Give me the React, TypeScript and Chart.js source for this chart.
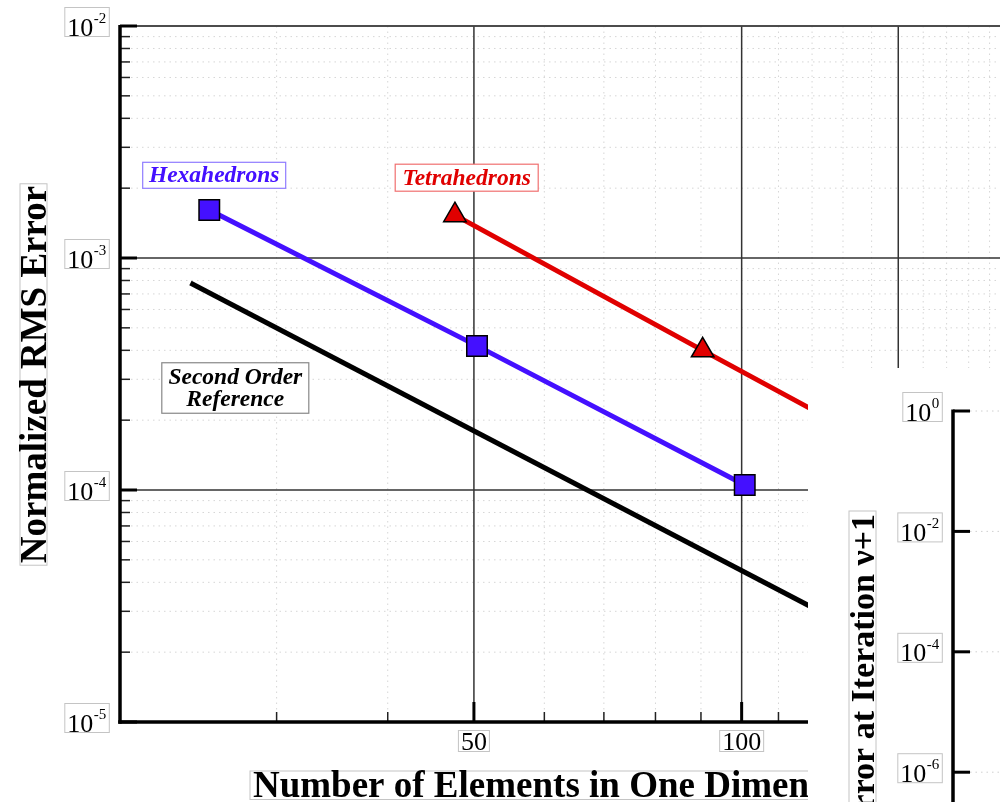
import React, { useEffect, useRef } from 'react';
import { Chart, registerables } from 'chart.js';

Chart.register(...registerables);

// ---- data (main chart) ----
const hexN = [25.2, 50.4, 100.8];
const hexErr = [1.61e-3, 4.18e-4, 1.05e-4];
const tetN = [47.6, 90.4, 180];
const tetErr = [1.53e-3, 4.0e-4, 9.6e-5];
const refN = [24, 200];
const refErr = [7.8e-4, 1.123e-5];

// ---- axes ----
const xMin = 20;
const xMax = 195.2;
const yMin = 1e-5;
const yMax = 1e-2;
const yMajor = [1e-5, 1e-4, 1e-3, 1e-2];
const yMajorExp = ['-5', '-4', '-3', '-2'];
const yMinorMult = [2, 3, 4, 5, 6, 7, 8, 9];
const xMajor = [50, 100, 150];
const xMajorLabels = ['50', '100', '150'];
const xMinor = [30, 40, 60, 70, 80, 90, 110, 120, 130, 140, 160, 170, 180, 190];

// ---- inset axis ----
const insetMajor = [1, 1e-2, 1e-4, 1e-6];
const insetExp = ['0', '-2', '-4', '-6'];
const insetMin = 3.2e-7;
const insetMax = 1;

const SERIF = '"Liberation Serif", "Times New Roman", serif';
const BLUE = '#4410ff';
const RED = '#e00000';

function line(ctx: CanvasRenderingContext2D, x1: number, y1: number, x2: number, y2: number, w: number, c: string, dash: number[] = []) {
  ctx.save();
  ctx.beginPath();
  ctx.setLineDash(dash);
  ctx.lineWidth = w;
  ctx.strokeStyle = c;
  ctx.moveTo(x1, y1);
  ctx.lineTo(x2, y2);
  ctx.stroke();
  ctx.restore();
}

function powLabel(ctx: CanvasRenderingContext2D, exp: string, boxRight: number, y: number) {
  ctx.save();
  ctx.font = `26px ${SERIF}`;
  const w1 = ctx.measureText('10').width;
  ctx.font = `15px ${SERIF}`;
  const w2 = ctx.measureText(exp).width;
  const total = w1 + w2 + 1;
  const left = boxRight - 2.5 - total;
  ctx.fillStyle = '#fff';
  ctx.fillRect(left - 2.5, y - 18.5, total + 5, 29);
  ctx.strokeStyle = '#c4c4c4';
  ctx.lineWidth = 1;
  ctx.strokeRect(left - 2.5, y - 18.5, total + 5, 29);
  ctx.fillStyle = '#000';
  ctx.textBaseline = 'alphabetic';
  ctx.textAlign = 'left';
  ctx.font = `26px ${SERIF}`;
  ctx.fillText('10', left, y + 9.5);
  ctx.font = `15px ${SERIF}`;
  ctx.fillText(exp, left + w1 + 0.5, y - 3);
  ctx.restore();
}

function plainLabel(ctx: CanvasRenderingContext2D, text: string, cx: number, baseline: number) {
  ctx.save();
  ctx.font = `26px ${SERIF}`;
  const w = ctx.measureText(text).width;
  ctx.fillStyle = '#fff';
  ctx.fillRect(cx - w / 2 - 2.5, baseline - 19, w + 5, 21);
  ctx.strokeStyle = '#c4c4c4';
  ctx.lineWidth = 1;
  ctx.strokeRect(cx - w / 2 - 2.5, baseline - 19, w + 5, 21);
  ctx.fillStyle = '#000';
  ctx.textAlign = 'center';
  ctx.textBaseline = 'alphabetic';
  ctx.fillText(text, cx, baseline);
  ctx.restore();
}

function boxedText(ctx: CanvasRenderingContext2D, lines: string[], cx: number, cy: number, font: string, color: string, border: string, lh: number, bw: number, bh: number) {
  ctx.save();
  ctx.fillStyle = '#fff';
  ctx.fillRect(cx - bw / 2, cy - bh / 2, bw, bh);
  ctx.strokeStyle = border;
  ctx.lineWidth = 1.2;
  ctx.strokeRect(cx - bw / 2, cy - bh / 2, bw, bh);
  ctx.font = font;
  ctx.fillStyle = color;
  ctx.textAlign = 'center';
  ctx.textBaseline = 'middle';
  const start = cy - ((lines.length - 1) * lh) / 2;
  lines.forEach((t, i) => ctx.fillText(t, cx, start + i * lh + 1));
  ctx.restore();
}

const mainPlugin = {
  id: 'mainDecor',
  beforeDatasetsDraw(chart: any) {
    const ctx: CanvasRenderingContext2D = chart.ctx;
    const { left, right, top, bottom } = chart.chartArea;
    const xs = chart.scales.x;
    const ys = chart.scales.y;
    // minor grid (dotted)
    for (let d = 0; d < yMajor.length - 1; d++) {
      for (const m of yMinorMult) {
        const py = ys.getPixelForValue(yMajor[d] * m);
        line(ctx, left, py, right, py, 1, '#d6d6d6', [1.5, 4]);
      }
    }
    for (const v of xMinor) {
      const px = xs.getPixelForValue(v);
      line(ctx, px, top, px, bottom, 1, '#d6d6d6', [1.5, 4]);
    }
    // major grid
    for (const v of yMajor) {
      const py = ys.getPixelForValue(v);
      line(ctx, left, py, right, py, 1.5, '#333');
    }
    for (const v of xMajor) {
      const px = xs.getPixelForValue(v);
      line(ctx, px, top, px, bottom, 1.5, '#333');
    }
  },
  afterDatasetsDraw(chart: any) {
    const ctx: CanvasRenderingContext2D = chart.ctx;
    const { left, right, top, bottom } = chart.chartArea;
    const xs = chart.scales.x;
    const ys = chart.scales.y;
    // top border
    line(ctx, left, top, right, top, 1.5, '#444');
    // y ticks
    for (let d = 0; d < yMajor.length - 1; d++) {
      for (const m of yMinorMult) {
        const py = ys.getPixelForValue(yMajor[d] * m);
        line(ctx, left, py, left + 10, py, 1.5, '#222');
      }
    }
    yMajor.forEach((v) => {
      const py = ys.getPixelForValue(v);
      line(ctx, left, py, left + 17, py, 3, '#000');
    });
    // x ticks
    for (const v of xMinor) {
      const px = xs.getPixelForValue(v);
      line(ctx, px, bottom, px, bottom - 10, 1.5, '#222');
    }
    xMajor.forEach((v) => {
      const px = xs.getPixelForValue(v);
      line(ctx, px, bottom, px, bottom - 20, 3, '#000');
    });
    // axis lines
    line(ctx, left, top - 1, left, bottom + 1.75, 3.5, '#000');
    line(ctx, left - 1.75, bottom, right, bottom, 3.5, '#000');
    // tick labels
    yMajor.forEach((v, i) => {
      powLabel(ctx, yMajorExp[i], left - 10.7, ys.getPixelForValue(v));
    });
    xMajor.forEach((v, i) => {
      plainLabel(ctx, xMajorLabels[i], xs.getPixelForValue(v), 749.5);
    });
    // axis titles
    ctx.save();
    ctx.font = `bold 37px ${SERIF}`;
    const yt = 'Normalized RMS Error';
    const wy = ctx.measureText(yt).width;
    ctx.translate(46, 374.5);
    ctx.rotate(-Math.PI / 2);
    ctx.fillStyle = '#fff';
    ctx.fillRect(-wy / 2 - 2, -26, wy + 4, 27);
    ctx.strokeStyle = '#c4c4c4';
    ctx.lineWidth = 1;
    ctx.strokeRect(-wy / 2 - 2, -26, wy + 4, 27);
    ctx.fillStyle = '#000';
    ctx.textAlign = 'center';
    ctx.textBaseline = 'alphabetic';
    ctx.fillText(yt, 0, 0);
    ctx.restore();

    ctx.save();
    ctx.font = `bold 37px ${SERIF}`;
    const xt = 'Number of Elements in One Dimension';
    const wx = ctx.measureText(xt).width;
    ctx.fillStyle = '#fff';
    ctx.fillRect(250, 771, wx + 6, 28.5);
    ctx.strokeStyle = '#c4c4c4';
    ctx.lineWidth = 1;
    ctx.strokeRect(250, 771, wx + 6, 28.5);
    ctx.fillStyle = '#000';
    ctx.textAlign = 'left';
    ctx.textBaseline = 'alphabetic';
    ctx.fillText(xt, 253, 797);
    ctx.restore();

    // annotations
    boxedText(ctx, ['Hexahedrons'], 214.2, 175.3, `italic bold 23.5px ${SERIF}`, BLUE, '#8f7cff', 0, 143, 26);
    boxedText(ctx, ['Tetrahedrons'], 466.7, 177.7, `italic bold 23.5px ${SERIF}`, RED, '#f07070', 0, 143, 27);
    boxedText(ctx, ['Second Order', 'Reference'], 235.3, 388, `italic bold 23.5px ${SERIF}`, '#000', '#888', 22.5, 147, 50.5);
  },
};

const insetPlugin = {
  id: 'insetDecor',
  beforeDraw(chart: any) {
    const ctx: CanvasRenderingContext2D = chart.ctx;
    ctx.save();
    ctx.fillStyle = '#fff';
    ctx.fillRect(0, 0, chart.width, chart.height);
    ctx.restore();
  },
  afterDraw(chart: any) {
    const ctx: CanvasRenderingContext2D = chart.ctx;
    const { left, right, top, bottom } = chart.chartArea;
    const ys = chart.scales.y;
    insetMajor.forEach((v) => {
      const py = ys.getPixelForValue(v);
      line(ctx, left + 17, py, right, py, 1, '#d0d0d0', [1.5, 4]);
      line(ctx, left, py, left + 17, py, 3, '#000');
    });
    line(ctx, left, top - 1.5, left, bottom, 3.5, '#000');
    insetMajor.forEach((v, i) => {
      powLabel(ctx, insetExp[i], left - 10.7, ys.getPixelForValue(v));
    });
    ctx.save();
    ctx.font = `bold 34px ${SERIF}`;
    const t = 'Error at Iteration \u03BD+1';
    const w = ctx.measureText(t).width;
    ctx.translate(left - 79, 146);
    ctx.rotate(-Math.PI / 2);
    ctx.fillStyle = '#fff';
    ctx.fillRect(-w - 2, -25, w + 5, 27);
    ctx.strokeStyle = '#c4c4c4';
    ctx.lineWidth = 1;
    ctx.strokeRect(-w - 2, -25, w + 5, 27);
    ctx.fillStyle = '#000';
    ctx.textAlign = 'right';
    ctx.textBaseline = 'alphabetic';
    ctx.fillText(t, 0, 0);
    ctx.restore();
  },
};

export default function App() {
  const mainRef = useRef<HTMLCanvasElement>(null);
  const insetRef = useRef<HTMLCanvasElement>(null);

  useEffect(() => {
    const pts = (xs: number[], ys: number[]) => xs.map((x, i) => ({ x, y: ys[i] }));
    const main = new Chart(mainRef.current as HTMLCanvasElement, {
      type: 'scatter',
      data: {
        datasets: [
          {
            label: 'Second Order Reference',
            data: pts(refN, refErr),
            showLine: true,
            borderColor: '#000',
            borderWidth: 5,
            pointRadius: 0,
          },
          {
            label: 'Hexahedrons',
            data: pts(hexN, hexErr),
            showLine: true,
            borderColor: BLUE,
            borderWidth: 5,
            pointStyle: 'rect',
            pointRadius: 14.5,
            pointBackgroundColor: BLUE,
            pointBorderColor: '#000',
            pointBorderWidth: 1.5,
          },
          {
            label: 'Tetrahedrons',
            data: pts(tetN, tetErr),
            showLine: true,
            borderColor: RED,
            borderWidth: 5,
            pointStyle: 'triangle',
            pointRadius: 13,
            pointBackgroundColor: RED,
            pointBorderColor: '#000',
            pointBorderWidth: 1.5,
          },
        ],
      },
      options: {
        responsive: false,
        animation: false,
        events: [],
        layout: { autoPadding: false, padding: { left: 120, top: 26, right: 0, bottom: 80 } },
        plugins: { legend: { display: false }, tooltip: { enabled: false } },
        scales: {
          x: { type: 'logarithmic', min: xMin, max: xMax, display: false },
          y: { type: 'logarithmic', min: yMin, max: yMax, display: false },
        },
      },
      plugins: [mainPlugin],
    });
    const inset = new Chart(insetRef.current as HTMLCanvasElement, {
      type: 'scatter',
      data: { datasets: [{ label: 'inset', data: [] }] },
      options: {
        responsive: false,
        animation: false,
        events: [],
        layout: { autoPadding: false, padding: { left: 145, top: 43, right: 0, bottom: 0 } },
        plugins: { legend: { display: false }, tooltip: { enabled: false } },
        scales: {
          x: { type: 'linear', min: 0, max: 1, display: false },
          y: { type: 'logarithmic', min: insetMin, max: insetMax, display: false },
        },
      },
      plugins: [insetPlugin],
    });
    return () => {
      main.destroy();
      inset.destroy();
    };
  }, []);

  return (
    <div style={{ position: 'fixed', left: 0, top: 0, width: 1000, height: 802, overflow: 'hidden', background: '#fff' }}>
      <canvas ref={mainRef} width={1000} height={802} style={{ position: 'absolute', left: 0, top: 0, display: 'block' }} />
      <canvas ref={insetRef} width={192} height={434} style={{ position: 'absolute', left: 808, top: 368, display: 'block' }} />
    </div>
  );
}
